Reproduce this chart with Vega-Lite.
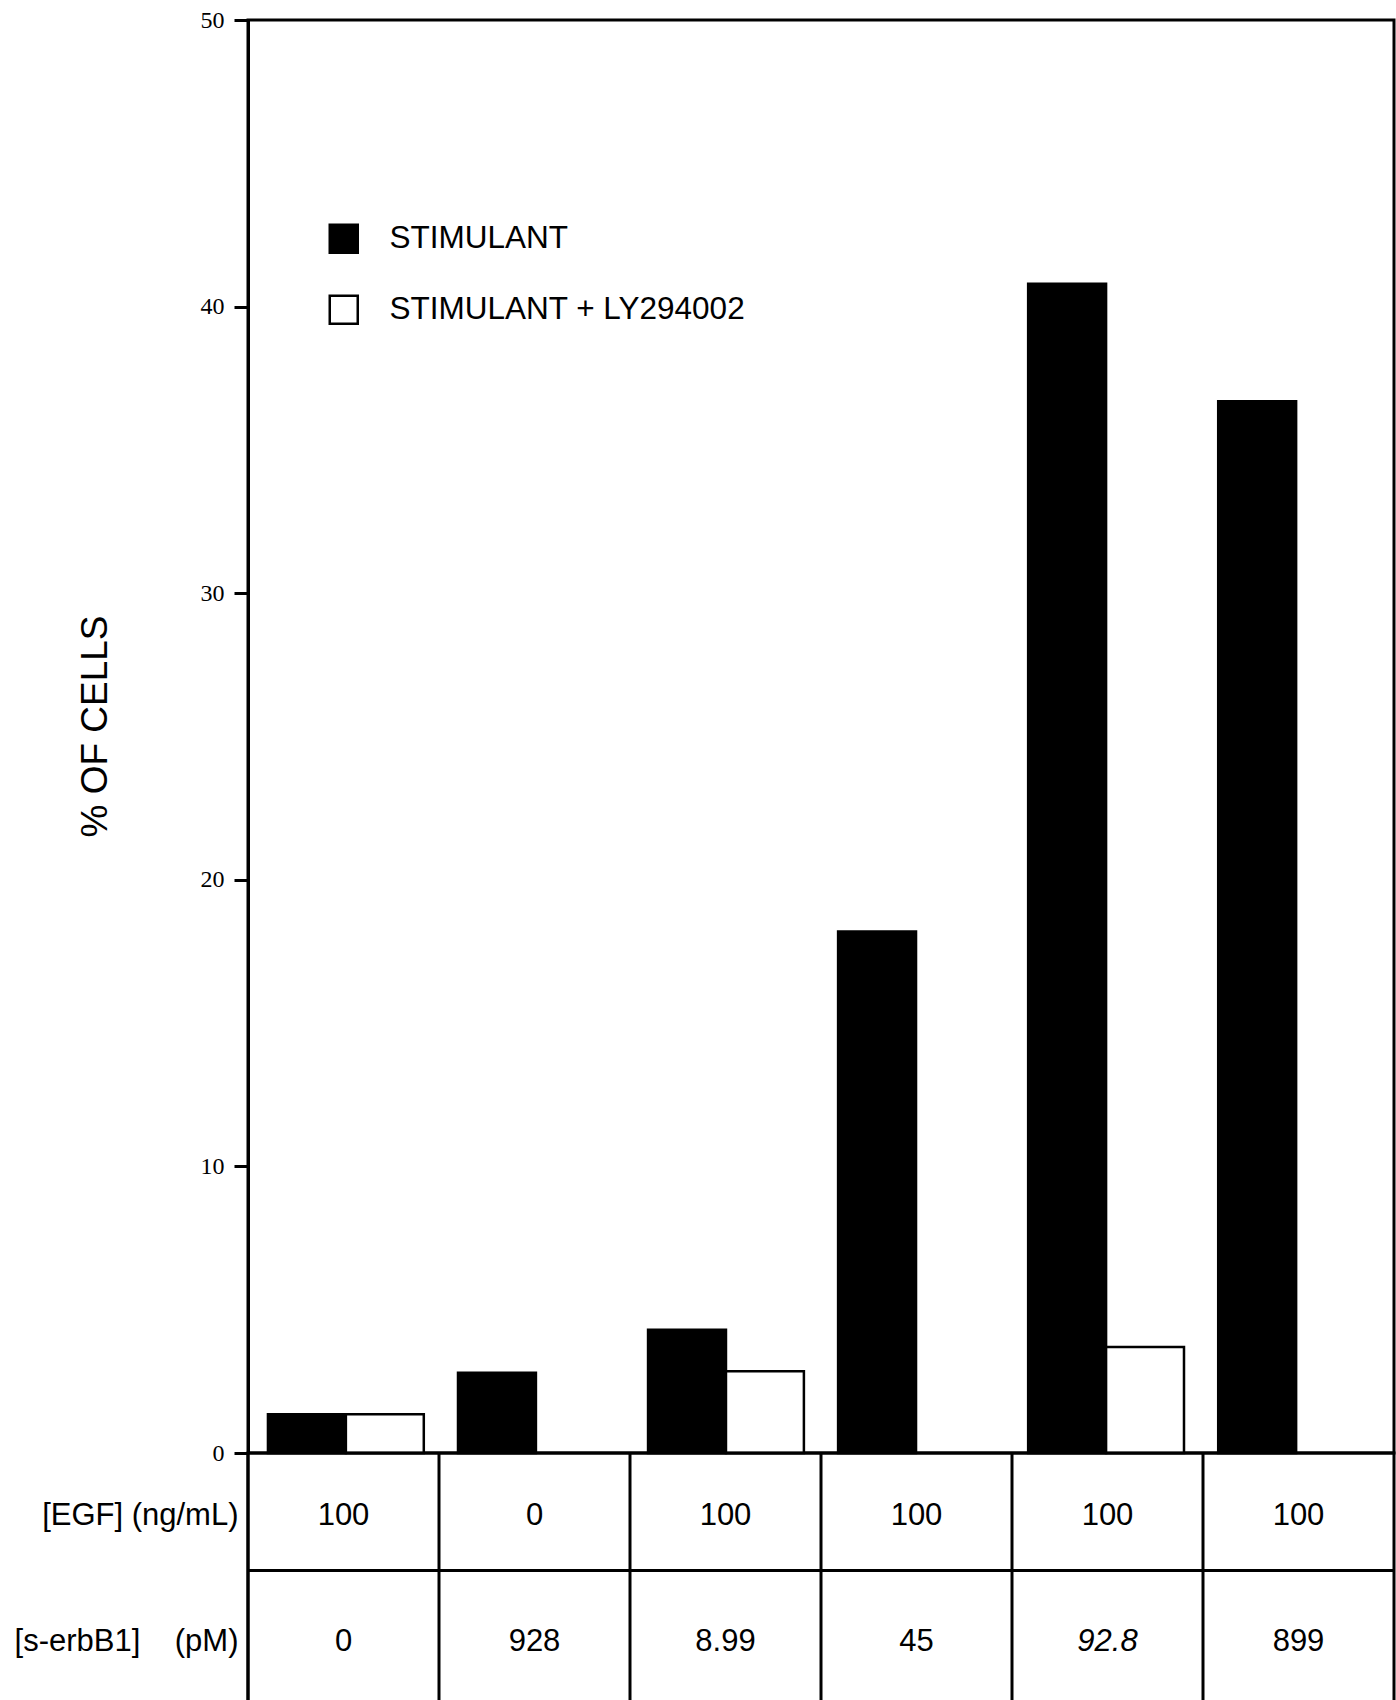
{
  "$schema": "https://vega.github.io/schema/vega-lite/v6.json",
  "background": "white",
  "padding": {"left": 12, "top": 6, "right": 0, "bottom": 0},
  "datasets": {
    "bars": [
      {"group": "1", "series": "STIMULANT", "pct": 1.35},
      {"group": "1", "series": "STIMULANT + LY294002", "pct": 1.35},
      {"group": "2", "series": "STIMULANT", "pct": 2.8},
      {"group": "3", "series": "STIMULANT", "pct": 4.3},
      {"group": "3", "series": "STIMULANT + LY294002", "pct": 2.85},
      {"group": "4", "series": "STIMULANT", "pct": 18.2},
      {"group": "5", "series": "STIMULANT", "pct": 40.8},
      {"group": "5", "series": "STIMULANT + LY294002", "pct": 3.7},
      {"group": "6", "series": "STIMULANT", "pct": 36.7}
    ],
    "table": [
      {"group": "1", "row": "[EGF] (ng/mL)", "value": "100"},
      {"group": "2", "row": "[EGF] (ng/mL)", "value": "0"},
      {"group": "3", "row": "[EGF] (ng/mL)", "value": "100"},
      {"group": "4", "row": "[EGF] (ng/mL)", "value": "100"},
      {"group": "5", "row": "[EGF] (ng/mL)", "value": "100"},
      {"group": "6", "row": "[EGF] (ng/mL)", "value": "100"},
      {"group": "1", "row": "[s-erbB1]\u00a0\u00a0\u00a0\u00a0(pM)", "value": "0"},
      {"group": "2", "row": "[s-erbB1]\u00a0\u00a0\u00a0\u00a0(pM)", "value": "928"},
      {"group": "3", "row": "[s-erbB1]\u00a0\u00a0\u00a0\u00a0(pM)", "value": "8.99"},
      {"group": "4", "row": "[s-erbB1]\u00a0\u00a0\u00a0\u00a0(pM)", "value": "45"},
      {"group": "5", "row": "[s-erbB1]\u00a0\u00a0\u00a0\u00a0(pM)", "value": "92.8"},
      {"group": "6", "row": "[s-erbB1]\u00a0\u00a0\u00a0\u00a0(pM)", "value": "899"}
    ]
  },
  "spacing": 0,
  "bounds": "flush",
  "resolve": {"scale": {"x": "independent", "y": "independent"}},
  "vconcat": [
    {
      "width": 1146,
      "height": 1433,
      "data": {"name": "bars"},
      "mark": {"type": "bar", "stroke": "black", "strokeWidth": 2.5},
      "encoding": {
        "x": {"field": "group", "type": "nominal", "sort": null, "axis": null,
              "scale": {"type": "band", "paddingInner": 0.18, "paddingOuter": 0.105}},
        "xOffset": {"field": "series", "type": "nominal",
                    "scale": {"domain": ["STIMULANT", "STIMULANT + LY294002"], "paddingInner": 0, "paddingOuter": 0}},
        "y": {"field": "pct", "type": "quantitative",
              "scale": {"domain": [0, 50], "nice": false},
              "axis": {"values": [0, 10, 20, 30, 40, 50], "grid": false,
                       "labelFont": "Liberation Serif", "labelFontSize": 24, "labelColor": "black",
                       "labelPadding": 10, "tickSize": 14, "tickWidth": 3, "tickColor": "black",
                       "domainColor": "black", "domainWidth": 3,
                       "title": "% OF CELLS", "titleFont": "Liberation Sans", "titleFontSize": 37,
                       "titleFontWeight": "normal", "titleColor": "black",
                       "titleBaseline": "alphabetic", "titleX": -142, "titleY": 706}},
        "color": {"field": "series", "type": "nominal",
                  "scale": {"domain": ["STIMULANT", "STIMULANT + LY294002"], "range": ["#000000", "#ffffff"]},
                  "legend": {"title": null, "orient": "none", "legendX": 80, "legendY": 203,
                             "symbolType": "square", "symbolSize": 784,
                             "symbolStrokeColor": "black", "symbolStrokeWidth": 2.5,
                             "labelFont": "Liberation Sans", "labelFontSize": 31.5, "labelColor": "black",
                             "labelOffset": 30, "rowPadding": 32, "labelLimit": 0,
                             "encode": {"symbols": {"update": {"stroke": {"value": "black"}, "strokeWidth": {"value": 2.5}}}}}}
      }
    },
    {
      "width": 1146,
      "height": 252,
      "data": {"name": "table"},
      "encoding": {
        "x": {"field": "group", "type": "nominal", "sort": null,
              "scale": {"type": "band", "paddingInner": 0, "paddingOuter": 0},
              "axis": {"orient": "bottom", "offset": -135, "labels": false, "ticks": false, "title": null,
                       "grid": false, "domain": true, "domainColor": "black", "domainWidth": 3}}
      },
      "layer": [
        {
          "transform": [{"filter": "datum.row === '[EGF] (ng/mL)'"}],
          "mark": {"type": "rule", "color": "black", "strokeWidth": 3},
          "encoding": {"x": {"field": "group", "type": "nominal", "sort": null, "bandPosition": 0}}
        },
        {
          "transform": [{"filter": "!(datum.group === '5' && datum.value === '92.8')"}],
          "mark": {"type": "text", "font": "Liberation Sans", "fontSize": 31, "color": "black", "align": "center", "baseline": "middle"},
          "encoding": {
            "y": {"field": "row", "type": "nominal", "sort": null,
                  "scale": {"type": "band", "paddingInner": 0, "paddingOuter": 0},
                  "axis": {"title": null, "ticks": false, "domain": false, "labelFont": "Liberation Sans",
                           "labelFontSize": 31, "labelColor": "black", "labelPadding": 10, "labelLimit": 0,
                           "grid": false}},
            "text": {"field": "value"}
          }
        },
        {
          "transform": [{"filter": "datum.group === '5' && datum.value === '92.8'"}],
          "mark": {"type": "text", "font": "Liberation Sans", "fontSize": 31, "fontStyle": "italic", "color": "black", "align": "center", "baseline": "middle"},
          "encoding": {
            "y": {"field": "row", "type": "nominal", "sort": null,
                  "scale": {"type": "band", "paddingInner": 0, "paddingOuter": 0},
                  "axis": {"title": null, "ticks": false, "domain": false, "labelFont": "Liberation Sans",
                           "labelFontSize": 31, "labelColor": "black", "labelPadding": 10, "labelLimit": 0,
                           "grid": false}},
            "text": {"field": "value"}
          }
        }
      ]
    }
  ],
  "config": {
    "view": {"stroke": "black", "strokeWidth": 3}
  }
}
